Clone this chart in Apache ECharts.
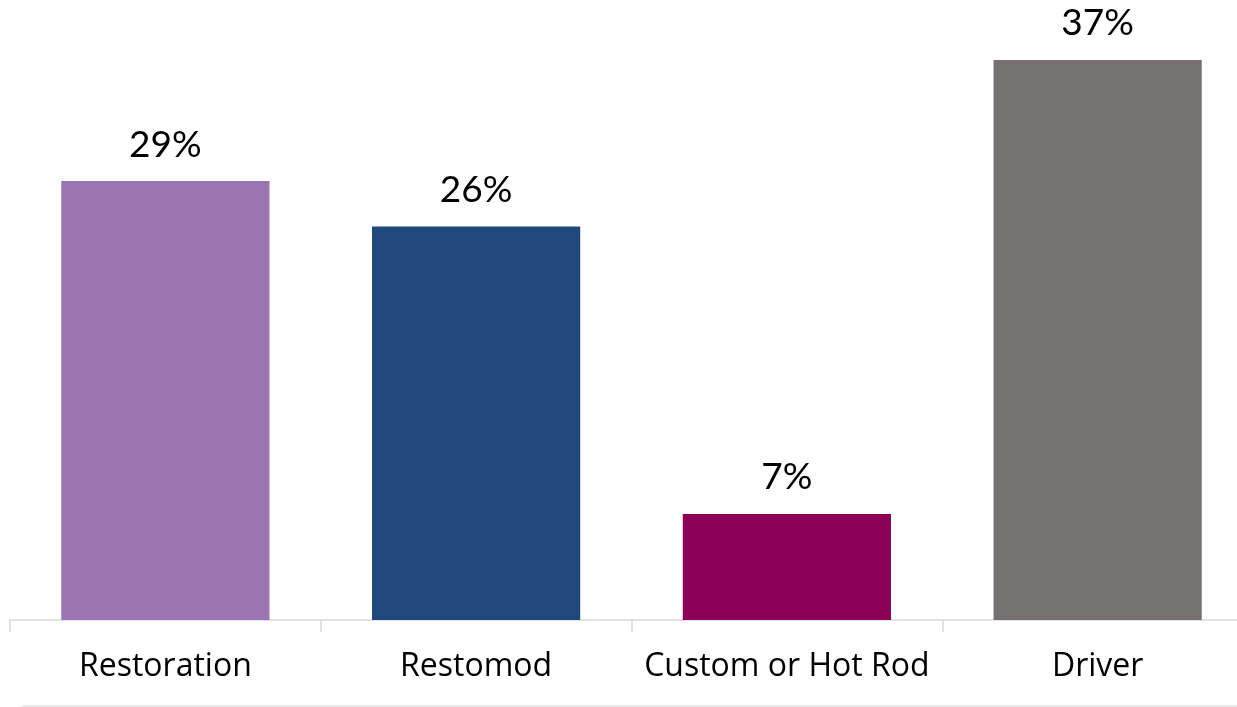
<!DOCTYPE html>
<html><head><meta charset="utf-8">
<script src="https://cdn.jsdelivr.net/npm/echarts@6/dist/echarts.min.js"></script>
<style>html,body{margin:0;padding:0;background:#fff;overflow:hidden;width:1237px;height:707px}#c{width:1264px;height:707px}</style>
</head><body><div id="c"></div>
<script>
const categories = ["Restoration", "Restomod", "Custom or Hot Rod", "Driver"];
const values = [29, 26, 7, 37];
const colors = ["#9b74b2", "#1f497c", "#8c0058", "#767171"];

const chart = echarts.init(document.getElementById('c'), null, {renderer: 'canvas'});
chart.setOption({
  animation: false,
  grid: {left: 10, width: 1243, top: 14.6, bottom: 87, containLabel: false},
  xAxis: {
    type: 'category', data: categories,
    axisLine: {lineStyle: {color: '#d9d9d9', width: 1.5}},
    axisTick: {show: true, interval: 0, length: 12, lineStyle: {color: '#d9d9d9', width: 1.5}},
    axisLabel: {interval: 0, color: '#000', fontFamily: 'Open Sans', fontSize: 32, margin: 31}
  },
  yAxis: {type: 'value', min: 0, max: 40, show: false, splitLine: {show: false}},
  series: [{
    type: 'bar',
    barWidth: '67%',
    data: values.map((v, i) => ({value: v, itemStyle: {color: colors[i]}})),
    label: {show: true, position: 'top', distance: 18, color: '#000', fontFamily: 'Lato', fontSize: 37, formatter: p => p.value + '%'}
  }],
  graphic: [{type: 'line', shape: {x1: 22, y1: 706, x2: 1237, y2: 706}, style: {stroke: '#e3e3e3', lineWidth: 1.5}}]
});
</script></body></html>
